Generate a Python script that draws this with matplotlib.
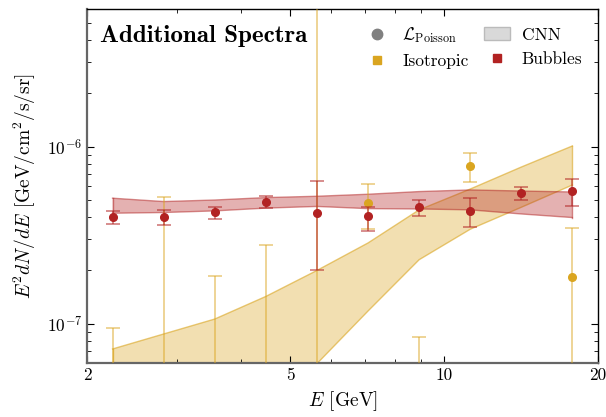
import numpy as np
import matplotlib
matplotlib.use("Agg")
import matplotlib.pyplot as plt
from matplotlib.lines import Line2D
from matplotlib.patches import Patch

plt.rcParams['font.family'] = ['cmr10', 'DejaVu Serif']
plt.rcParams['mathtext.fontset'] = 'cm'
plt.rcParams['axes.formatter.use_mathtext'] = True

# Energy bin centres (GeV)
energy = [2.244, 2.825, 3.557, 4.477, 5.637, 7.096, 8.934, 11.25, 14.16, 17.82]

# Bubbles (L_Poisson) points
bub_val = [4.00e-7, 4.00e-7, 4.27e-7, 4.88e-7, 4.21e-7, 4.07e-7, 4.55e-7, 4.34e-7, 5.48e-7, 5.62e-7]
bub_lo = [3.66e-7, 3.62e-7, 3.93e-7, 4.50e-7, 2.00e-7, 3.35e-7, 4.05e-7, 3.51e-7, 5.03e-7, 4.61e-7]
bub_hi = [4.32e-7, 4.38e-7, 4.57e-7, 5.29e-7, 6.43e-7, 4.57e-7, 5.03e-7, 5.16e-7, 5.93e-7, 6.60e-7]

# Isotropic (L_Poisson) points
iso_val = [2.0e-8, 2.0e-8, 2.0e-8, 2.0e-8, 2.0e-8, 4.81e-7, 2.0e-8, 7.79e-7, 1.0e-9, 1.83e-7]
iso_lo = [1e-12, 1e-12, 1e-12, 1e-12, 1e-12, 3.45e-7, 1e-12, 6.35e-7, 1e-12, 1e-12]
iso_hi = [9.46e-8, 5.19e-7, 1.87e-7, 2.77e-7, 1.0e-5, 6.14e-7, 8.41e-8, 9.18e-7, 4.0e-8, 3.49e-7]

# CNN bands
cnn_bub_lo = [4.21e-7, 4.25e-7, 4.34e-7, 4.50e-7, 4.60e-7, 4.47e-7, 4.45e-7, 4.40e-7, 4.17e-7, 3.98e-7]
cnn_bub_hi = [5.12e-7, 4.90e-7, 5.00e-7, 5.16e-7, 5.25e-7, 5.39e-7, 5.58e-7, 5.70e-7, 5.62e-7, 5.55e-7]
cnn_iso_lo = [1.5e-8, 2.0e-8, 3.0e-8, 4.5e-8, 5.95e-8, 1.18e-7, 2.30e-7, 3.42e-7, 4.55e-7, 6.08e-7]
cnn_iso_hi = [7.2e-8, 8.75e-8, 1.063e-7, 1.426e-7, 2.0e-7, 2.86e-7, 4.40e-7, 5.77e-7, 7.68e-7, 1.01e-6]

c_iso = '#DAA520'
c_bub = '#B22222'

fig = plt.figure(figsize=(6.06, 4.17), dpi=100)
ax = fig.add_axes([87/606, 1-363/417, (598-87)/606, (363-9)/417])

E = np.array(energy)
ax.fill_between(E, cnn_iso_lo, cnn_iso_hi, facecolor=c_iso, alpha=0.35, lw=0, zorder=1)
ax.plot(E, cnn_iso_lo, color=c_iso, alpha=0.6, lw=1, zorder=1)
ax.plot(E, cnn_iso_hi, color=c_iso, alpha=0.6, lw=1, zorder=1)
ax.plot([E[-1], E[-1]], [cnn_iso_lo[-1], cnn_iso_hi[-1]], color=c_iso, alpha=0.6, lw=1, zorder=1)
ax.plot([E[0], E[0]], [cnn_iso_lo[0], cnn_iso_hi[0]], color=c_iso, alpha=0.6, lw=1, zorder=1)

ax.fill_between(E, cnn_bub_lo, cnn_bub_hi, facecolor=c_bub, alpha=0.35, lw=0, zorder=2)
ax.plot(E, cnn_bub_lo, color=c_bub, alpha=0.5, lw=1, zorder=2)
ax.plot(E, cnn_bub_hi, color=c_bub, alpha=0.5, lw=1, zorder=2)
ax.plot([E[0], E[0]], [cnn_bub_lo[0], cnn_bub_hi[0]], color=c_bub, alpha=0.5, lw=1, zorder=2)
ax.plot([E[-1], E[-1]], [cnn_bub_lo[-1], cnn_bub_hi[-1]], color=c_bub, alpha=0.5, lw=1, zorder=2)

iv = np.array(iso_val)
ax.errorbar(E, iv, yerr=[iv - np.array(iso_lo), np.array(iso_hi) - iv], fmt='none',
            ecolor=c_iso, alpha=0.55, elinewidth=1.2, capsize=5, capthick=1.2, zorder=3)
ax.plot(E, iv, 'o', color=c_iso, ms=5.5, zorder=4)

bv = np.array(bub_val)
ax.errorbar(E, bv, yerr=[bv - np.array(bub_lo), np.array(bub_hi) - bv], fmt='none',
            ecolor=c_bub, alpha=0.6, elinewidth=1.2, capsize=5, capthick=1.2, zorder=5)
ax.plot(E, bv, 'o', color=c_bub, ms=5.5, zorder=6)

ax.set_xscale('log')
ax.set_yscale('log')
ax.set_xlim(2, 20)
ax.set_ylim(6e-8, 6e-6)
ax.set_xticks([2, 5, 10, 20])
ax.set_xticklabels(['2', '5', '10', '20'])
ax.tick_params(which='both', direction='in', top=True, right=True, labelsize=12.5)
ax.tick_params(which='major', length=5)
ax.tick_params(which='minor', length=3)
ax.xaxis.set_minor_formatter(matplotlib.ticker.NullFormatter())

for s in ['left', 'bottom']:
    ax.spines[s].set_color('#666666')
    ax.spines[s].set_linewidth(1.6)
for s in ['top', 'right']:
    ax.spines[s].set_color('black')
    ax.spines[s].set_linewidth(1.0)

ax.set_xlabel(r'$E$ [GeV]', fontsize=14, labelpad=4)
ax.set_ylabel(r'$E^2dN/dE$ [GeV/cm$^2$/s/sr]', fontsize=14, labelpad=6)

ax.text(0.025, 0.955, 'Additional Spectra', transform=ax.transAxes, fontsize=18,
        fontweight='bold', family=['cmb10', 'DejaVu Serif'], va='top', ha='left')

handles = [
    Line2D([], [], marker='o', color='gray', ls='none', ms=7.5),
    Line2D([], [], marker='s', color=c_iso, ls='none', ms=6),
    Patch(facecolor='#d9d9d9', edgecolor='#bbbbbb'),
    Line2D([], [], marker='s', color=c_bub, ls='none', ms=6),
]
labels = [r'$\mathcal{L}_{\rm Poisson}$', 'Isotropic', 'CNN', 'Bubbles']
ax.legend(handles, labels, ncol=2, loc='upper right', frameon=False, fontsize=12.5,
          bbox_to_anchor=(1.0, 1.0), handlelength=1.5, columnspacing=0.85, handletextpad=0.7)

fig.savefig('out.png', dpi=100)
